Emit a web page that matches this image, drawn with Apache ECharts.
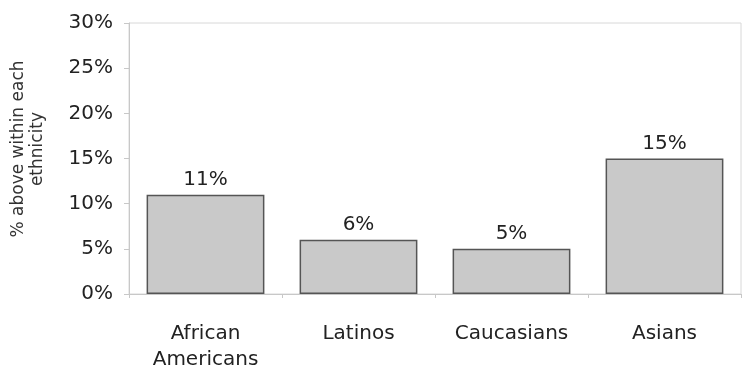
<!DOCTYPE html>
<html><head><meta charset="utf-8">
<script src="https://cdn.jsdelivr.net/npm/echarts@6/dist/echarts.min.js"></script>
<style>html,body{margin:0;padding:0;background:#fff}#c{width:743px;height:369px}</style>
</head><body><div id="c"></div>
<script>
var categories = ['African\nAmericans', 'Latinos', 'Caucasians', 'Asians'];
var values = [11, 6, 5, 15];
var yTicks = [0, 5, 10, 15, 20, 25, 30];
var yTitle = '% above within each\nethnicity';

var FONT = 'DejaVu Sans';
var chart = echarts.init(document.getElementById('c'));
chart.setOption({
  animation: false,
  grid: {left: 129, right: 2, top: 23, bottom: 75, show: true, borderColor: '#d8d8d8', borderWidth: 1, containLabel: false, outerBoundsMode: 'none'},
  graphic: [{
    type: 'text', x: 28, y: 149, rotation: Math.PI / 2,
    style: {text: yTitle, fill: '#333', font: '17px "DejaVu Sans"', align: 'center', verticalAlign: 'middle', lineHeight: 19}
  }],
  xAxis: {
    type: 'category', data: categories,
    axisLine: {lineStyle: {color: '#c8c8c8'}},
    axisTick: {show: true, length: 4, lineStyle: {color: '#c8c8c8'}},
    axisLabel: {color: '#222', fontFamily: FONT, fontSize: 20, margin: 27, lineHeight: 26}
  },
  yAxis: {
    type: 'value', min: yTicks[0], max: yTicks[yTicks.length-1], interval: 5,
    axisLine: {show: true, lineStyle: {color: '#c8c8c8'}},
    axisTick: {show: true, length: 5, lineStyle: {color: '#c8c8c8'}},
    splitLine: {show: false},
    axisLabel: {color: '#222', fontFamily: FONT, fontSize: 20, margin: 16, formatter: '{value}%'}
  },
  series: [{
    type: 'bar', data: values, barCategoryGap: '23%',
    itemStyle: {color: '#c9c9c9', borderColor: '#555', borderWidth: 1.5},
    label: {show: true, position: 'top', distance: 5, formatter: '{c}%', color: '#222', fontFamily: FONT, fontSize: 20}
  }]
});
</script></body></html>
